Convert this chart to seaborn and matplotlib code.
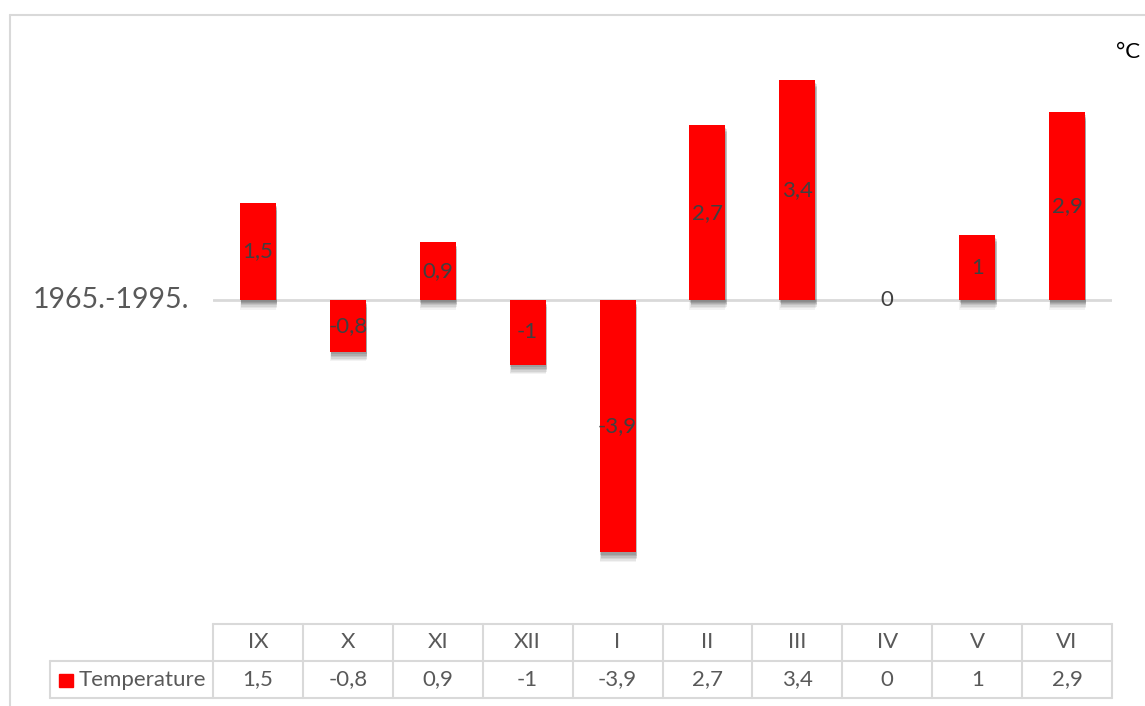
import matplotlib
matplotlib.use("Agg")
import matplotlib.pyplot as plt
import matplotlib.patheffects as pe
from matplotlib.lines import Line2D
from matplotlib.patches import Rectangle
import seaborn as sns
import pandas as pd

# data
months = ["IX", "X", "XI", "XII", "I", "II", "III", "IV", "V", "VI"]
temperature = [1.5, -0.8, 0.9, -1.0, -3.9, 2.7, 3.4, 0.0, 1.0, 2.9]
value_labels = ["1,5", "-0,8", "0,9", "-1", "-3,9", "2,7", "3,4", "0", "1", "2,9"]
series_name = "Temperature"
period_label = "1965.-1995."
unit_label = "°C"

df = pd.DataFrame({"month": months, "temp": temperature})

sns.set_theme(style="white")
plt.rcParams["font.family"] = ["Lato", "DejaVu Sans"]

W, H = 1145, 706
fig = plt.figure(figsize=(W / 100, H / 100), dpi=100)

bar_red = "#ff0000"
grid_gray = "#d9d9d9"
text_gray = "#595959"
label_gray = "#404040"

# main plot area (pixel positions -> figure fractions)
left, right = 213 / W, 1112 / W
top, bottom = 1 - 15 / H, 1 - 624 / H
ax = fig.add_axes([left, bottom, right - left, top - bottom])

sns.barplot(data=df, x="month", y="temp", color=bar_red, width=0.4,
            saturation=1, ax=ax, zorder=3)

# soft drop shadow, built from a few stacked offset layers
shadow = []
for off, a in [((0, -7), 0.06), ((0.5, -6), 0.08), ((1, -5), 0.10),
               ((1, -4), 0.12), ((1, -3), 0.14), ((0.5, -2), 0.16)]:
    shadow.append(pe.SimplePatchShadow(offset=off, shadow_rgbFace="#404040", alpha=a))
shadow.append(pe.Normal())
for p in ax.patches:
    p.set_edgecolor("none")
    p.set_path_effects(shadow)

ax.set_xlim(-0.5, len(months) - 0.5)
ax.set_ylim(-5.01, 4.405)
ax.axhline(0, color=grid_gray, lw=2, zorder=2)
ax.set_axis_off()

# data labels centred in bars
for i, (v, lab) in enumerate(zip(temperature, value_labels)):
    ax.text(i, v / 2, lab, ha="center", va="center", fontsize=16,
            color=label_gray, zorder=5)

fig.text(33 / W, 1 - 300 / H, period_label, ha="left", va="center",
         fontsize=20.5, color=text_gray)
fig.text(1128 / W, 1 - 52 / H, unit_label, ha="center", va="center",
         fontsize=16, color="black")

# data table below the chart
tleft = 50 / W
ttop, tbot = 1 - 624 / H, 1 - 698 / H
tax = fig.add_axes([tleft, tbot, right - tleft, ttop - tbot])
cat_px = (1112 - 213) / len(months)
legend_w = (213 - 50) / cat_px
tax.set_xlim(-0.5 - legend_w, len(months) - 0.5)
tax.set_ylim(0, 2)
tax.set_axis_off()

lw = 1.5
tax.plot([-0.5, len(months) - 0.5], [2, 2], color=grid_gray, lw=lw, clip_on=False)
tax.plot([-0.5 - legend_w, len(months) - 0.5], [1, 1], color=grid_gray, lw=lw, clip_on=False)
tax.plot([-0.5 - legend_w, len(months) - 0.5], [0, 0], color=grid_gray, lw=lw, clip_on=False)
for k in range(len(months) + 1):
    tax.plot([k - 0.5, k - 0.5], [0, 2], color=grid_gray, lw=lw, clip_on=False)
tax.plot([-0.5 - legend_w, -0.5 - legend_w], [0, 1], color=grid_gray, lw=lw, clip_on=False)

for i, (m, lab) in enumerate(zip(months, value_labels)):
    tax.text(i, 1.5, m, ha="center", va="center", fontsize=16, color=text_gray)
    tax.text(i, 0.5, lab, ha="center", va="center", fontsize=16, color=text_gray)

# legend key
fig.patches.append(Rectangle((59 / W, 1 - 687 / H), 14 / W, 13 / H,
                             transform=fig.transFigure, color=bar_red, zorder=5))
fig.text(79 / W, 1 - 680 / H, series_name, ha="left", va="center",
         fontsize=16, color=text_gray)

# outer chart border (top and left visible)
fig.add_artist(Line2D([9.5 / W, 1], [1 - 14.5 / H, 1 - 14.5 / H],
                      transform=fig.transFigure, color=grid_gray, lw=1.5))
fig.add_artist(Line2D([9.5 / W, 9.5 / W], [0, 1 - 14.5 / H],
                      transform=fig.transFigure, color=grid_gray, lw=1.5))

fig.savefig("out.png", dpi=100)
